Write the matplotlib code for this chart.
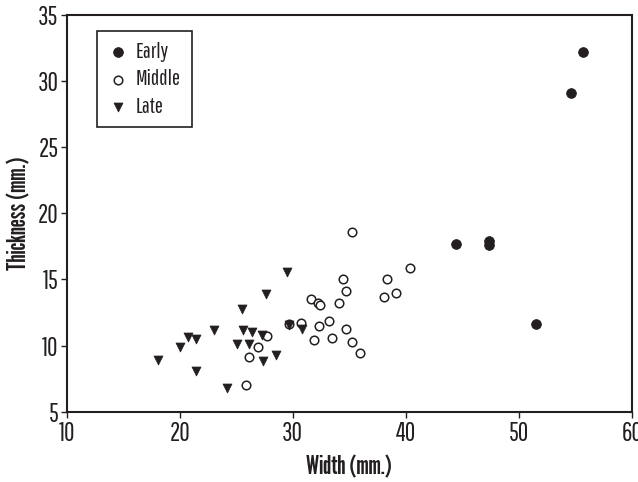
import matplotlib
matplotlib.use("Agg")
import matplotlib.pyplot as plt

plt.rcParams["font.family"] = ["Pathway Gothic One", "DejaVu Sans"]

early_w = [44.4, 47.4, 47.4, 51.5, 54.6, 55.7]
early_t = [17.7, 17.9, 17.6, 11.6, 29.1, 32.2]

middle_w = [35.2, 40.4, 34.4, 38.35, 34.75, 39.1, 38.1, 31.6, 32.2, 32.4, 34.07,
            29.65, 30.7, 33.17, 32.3, 34.67, 31.87, 33.45, 35.25, 35.96,
            27.7, 26.95, 26.1, 25.9]
middle_t = [18.6, 15.9, 15.0, 15.06, 14.13, 13.96, 13.7, 13.5, 13.2, 13.07, 13.22,
            11.6, 11.69, 11.84, 11.46, 11.23, 10.4, 10.6, 10.27, 9.46,
            10.73, 9.92, 9.11, 7.02]

late_w = [29.48, 27.6, 25.5, 23.02, 20.75, 21.4, 20.0, 18.07, 21.43, 24.17,
          25.56, 26.38, 27.3, 25.1, 26.1, 28.53, 27.33, 29.7, 30.8]
late_t = [15.59, 13.88, 12.79, 11.16, 10.63, 10.5, 9.87, 8.91, 8.08, 6.79,
          11.16, 11.0, 10.78, 10.12, 10.12, 9.27, 8.81, 11.56, 11.23]

x_ticks = [10, 20, 30, 40, 50, 60]
y_ticks = [5, 10, 15, 20, 25, 30, 35]

fig = plt.figure(figsize=(6.38, 4.82), dpi=100)
ax = fig.add_axes([0.1045, 0.1459, 0.886, 0.823])

ink = "#231f20"
ax.scatter(early_w, early_t, s=50, marker="o", facecolor=ink, edgecolor=ink,
           linewidths=0.5, label="Early", zorder=3)
ax.scatter(middle_w, middle_t, s=38, marker="o", facecolor="white", edgecolor=ink,
           linewidths=1.1, label="Middle", zorder=3)
ax.scatter(late_w, late_t, s=42, marker="v", facecolor=ink, edgecolor=ink,
           linewidths=0.5, label="Late", zorder=4)

ax.set_xlim(10, 60)
ax.set_ylim(5, 35)
ax.set_xticks(x_ticks)
ax.set_yticks(y_ticks)
ax.tick_params(direction="out", length=4.5, width=1.0, labelsize=18.5, colors=ink,
               top=False, right=False)
ax.tick_params(axis="y", pad=1.5)
ax.tick_params(axis="x", pad=2.5)
for sp in ax.spines.values():
    sp.set_linewidth(1.5)
    sp.set_color(ink)

lab_font = ["League Gothic", "DejaVu Sans"]
xl = ax.set_xlabel("Width (mm.)", fontsize=18.5, family=lab_font, color=ink)
yl = ax.set_ylabel("Thickness (mm.)", fontsize=18.5, family=lab_font, color=ink)
ax.xaxis.set_label_coords(0.5, -0.14)
ax.yaxis.set_label_coords(-0.084, 0.5)
xl.set_va("center")
yl.set_va("center")

leg = ax.legend(loc="upper left", bbox_to_anchor=(0.0536, 0.96),
                prop={"size": 15.5, "family": "Pathway Gothic One"},
                frameon=True, fancybox=False, edgecolor=ink, framealpha=1,
                handletextpad=0.3, borderpad=0.5, labelspacing=0.35,
                handlelength=1.0, borderaxespad=0)
leg.get_frame().set_linewidth(1.2)
for t in leg.get_texts():
    t.set_color(ink)

fig.savefig("out.png", dpi=100)
